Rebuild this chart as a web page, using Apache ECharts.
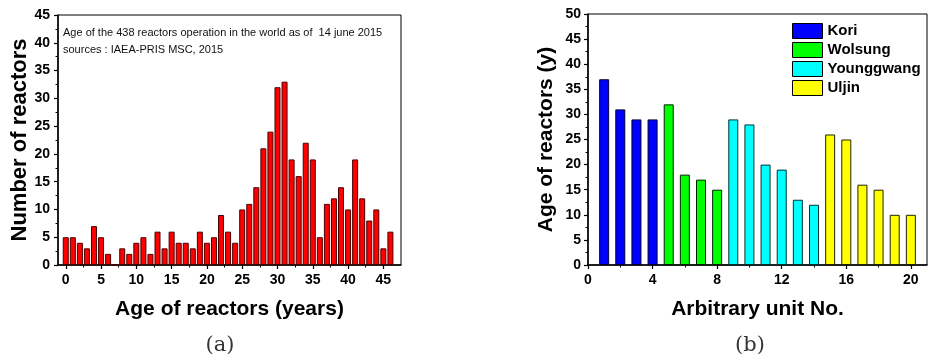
<!DOCTYPE html>
<html><head><meta charset="utf-8">
<script src="https://cdn.jsdelivr.net/npm/echarts@6/dist/echarts.min.js"></script>
<style>html,body{margin:0;padding:0;background:#fff}#c{width:930px;height:360px}</style>
</head><body><div id="c"></div>
<script>
// ---- Panel (a): age distribution of 438 reactors ----
const ageYears = [0,1,2,3,4,5,6,7,8,9,10,11,12,13,14,15,16,17,18,19,20,21,22,23,24,25,26,27,28,29,30,31,32,33,34,35,36,37,38,39,40,41,42,43,44,45,46];
const reactorCounts = [5,5,4,3,7,5,2,0,3,2,4,5,2,6,3,6,4,4,3,6,4,5,9,6,4,10,11,14,21,24,32,33,19,16,22,19,5,11,12,14,10,19,12,8,10,3,6];
const ageTicks = [0,5,10,15,20,25,30,35,40,45];
const ageMinorTicks = [2.5,7.5,12.5,17.5,22.5,27.5,32.5,37.5,42.5];
const noteLines = ['Age of the 438 reactors operation in the world as of  14 june 2015', 'sources : IAEA-PRIS MSC, 2015'];

// ---- Panel (b): Korean units ----
const plantNames = ['Kori','Wolsung','Younggwang','Uljin'];
const koriUnits = [1,2,3,4];
const koriAges = [37,31,29,29];
const wolsungUnits = [5,6,7,8];
const wolsungAges = [32,18,17,15];
const younggwangUnits = [9,10,11,12,13,14];
const younggwangAges = [29,28,20,19,13,12];
const uljinUnits = [15,16,17,18,19,20];
const uljinAges = [26,25,16,15,10,10];
const unitTicks = [0,4,8,12,16,20];
const unitMinorTicks = [2,6,10,14,18];

const FONT = "'Liberation Sans', Arial, sans-serif";
const black = '#000';
const lbl = {fontSize:14, fontWeight:'bold', color:black, fontFamily:FONT};
const nameStyle = {fontSize:21, fontWeight:'bold', color:black, fontFamily:FONT};

function pairs(xs, ys){ return xs.map((x,i)=>[x, ys[i]]); }

const chart = echarts.init(document.getElementById('c'), null, {renderer:'canvas'});
const option = {
  animation:false,
  backgroundColor:'#fff',
  grid:[
    {left:58, top:15, width:343, height:250, show:true, borderColor:black, borderWidth:1, backgroundColor:'transparent'},
    {left:588, top:14, width:339, height:251, show:true, borderColor:black, borderWidth:1, backgroundColor:'transparent'}
  ],
  xAxis:[
    {gridIndex:0, type:'value', min:-1.1, max:47.5, position:'bottom',
     axisLine:{show:true, onZero:false, lineStyle:{color:black, width:1.5}},
     axisTick:{show:true, customValues:ageTicks, length:4, lineStyle:{color:black, width:1.2}},
     axisLabel:{customValues:ageTicks, margin:8, ...lbl},
     splitLine:{show:false},
     name:'Age of reactors (years)', nameLocation:'middle', nameGap:34, nameTextStyle:nameStyle},
    {gridIndex:0, type:'value', min:-1.1, max:47.5, position:'bottom',
     axisLine:{show:false}, axisTick:{show:true, customValues:ageMinorTicks, length:2.5, lineStyle:{color:black, width:1}},
     axisLabel:{show:false}, splitLine:{show:false}},
    {gridIndex:1, type:'value', min:0, max:21, position:'bottom',
     axisLine:{show:true, onZero:false, lineStyle:{color:black, width:1.5}},
     axisTick:{show:true, customValues:unitTicks, length:4, lineStyle:{color:black, width:1.2}},
     axisLabel:{customValues:unitTicks, margin:8, ...lbl},
     splitLine:{show:false},
     name:'Arbitrary unit No.', nameLocation:'middle', nameGap:34, nameTextStyle:nameStyle},
    {gridIndex:1, type:'value', min:0, max:21, position:'bottom',
     axisLine:{show:false}, axisTick:{show:true, customValues:unitMinorTicks, length:2.5, lineStyle:{color:black, width:1}},
     axisLabel:{show:false}, splitLine:{show:false}}
  ],
  yAxis:[
    {gridIndex:0, type:'value', min:0, max:45, interval:5,
     axisLine:{show:true, onZero:false, lineStyle:{color:black, width:1.5}},
     axisTick:{show:true, length:4, lineStyle:{color:black, width:1.2}},
     minorTick:{show:true, splitNumber:2, length:2.5, lineStyle:{color:black, width:1}},
     axisLabel:{margin:8, ...lbl},
     splitLine:{show:false}, minorSplitLine:{show:false},
     name:'Number of reactors', nameLocation:'middle', nameGap:25, nameTextStyle:{...nameStyle, fontSize:22}},
    {gridIndex:1, type:'value', min:0, max:50, interval:5,
     axisLine:{show:true, onZero:false, lineStyle:{color:black, width:1.5}},
     axisTick:{show:true, length:4, lineStyle:{color:black, width:1.2}},
     minorTick:{show:true, splitNumber:2, length:2.5, lineStyle:{color:black, width:1}},
     axisLabel:{margin:7, ...lbl},
     splitLine:{show:false}, minorSplitLine:{show:false},
     name:'Age of reactors (y)', nameLocation:'middle', nameGap:31, nameTextStyle:nameStyle}
  ],
  legend:{
    data:plantNames, orient:'vertical', left:792, top:23, padding:0,
    icon:'rect', itemWidth:30, itemHeight:15, itemGap:3,
    textStyle:{fontSize:15, fontWeight:'bold', color:black, fontFamily:FONT},
    itemStyle:{borderColor:black, borderWidth:1}
  },
  series:[
    {type:'bar', name:'reactors', xAxisIndex:0, yAxisIndex:0, data:pairs(ageYears, reactorCounts), barWidth:6,
     itemStyle:{color:'#ff0000', borderColor:'#4a0000', borderWidth:1}},
    {type:'bar', name:plantNames[0], xAxisIndex:2, yAxisIndex:1, data:pairs(koriUnits, koriAges), barWidth:10, barGap:'-100%',
     itemStyle:{color:'#0000ff', borderColor:'#000033', borderWidth:1}},
    {type:'bar', name:plantNames[1], xAxisIndex:2, yAxisIndex:1, data:pairs(wolsungUnits, wolsungAges), barWidth:10, barGap:'-100%',
     itemStyle:{color:'#00ff00', borderColor:'#002200', borderWidth:1}},
    {type:'bar', name:plantNames[2], xAxisIndex:2, yAxisIndex:1, data:pairs(younggwangUnits, younggwangAges), barWidth:10, barGap:'-100%',
     itemStyle:{color:'#00ffff', borderColor:'#003333', borderWidth:1}},
    {type:'bar', name:plantNames[3], xAxisIndex:2, yAxisIndex:1, data:pairs(uljinUnits, uljinAges), barWidth:10, barGap:'-100%',
     itemStyle:{color:'#ffff00', borderColor:'#222200', borderWidth:1}}
  ],
  graphic:[
    {type:'text', left:63, top:27, style:{text:noteLines[0], font:"11px 'Liberation Sans', Arial, sans-serif", fill:'#111'}},
    {type:'text', left:63, top:44, style:{text:noteLines[1], font:"11px 'Liberation Sans', Arial, sans-serif", fill:'#111'}},
    {type:'text', x:220, y:346, style:{text:'(a)', font:"21px 'DejaVu Serif', 'Liberation Serif', serif", fill:'#333', align:'center', verticalAlign:'middle'}},
    {type:'text', x:750, y:346, style:{text:'(b)', font:"21px 'DejaVu Serif', 'Liberation Serif', serif", fill:'#333', align:'center', verticalAlign:'middle'}}
  ]
};
chart.setOption(option);
</script>
</body></html>
